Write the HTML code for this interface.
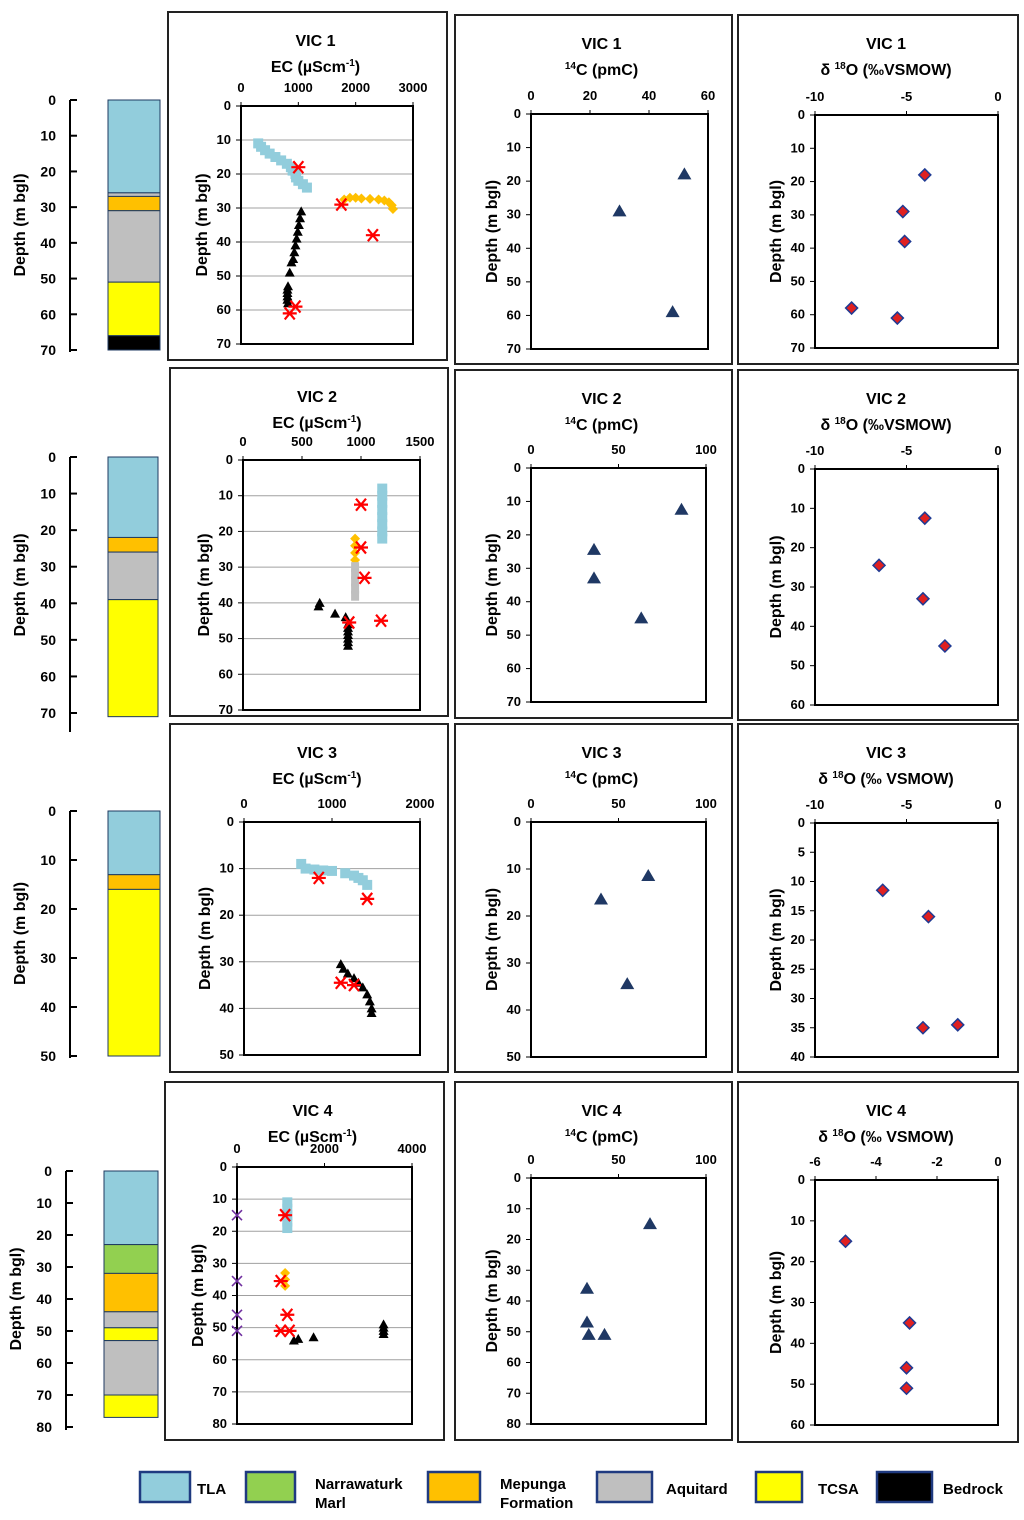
<!DOCTYPE html>
<html><head><meta charset="utf-8">
<style>
html,body{margin:0;padding:0;background:#fff;}
svg{display:block;font-family:"Liberation Sans",sans-serif;font-weight:bold;}
</style></head>
<body>
<svg id="fig" width="1024" height="1520" viewBox="0 0 1024 1520"></svg>
<script>
// ---------- data ----------
const stratCols = [
  [[0,26,'#92cddc'],[26,27,'#bfbfbf'],[27,31,'#ffc000'],[31,51,'#bfbfbf'],[51,66,'#ffff00'],[66,70,'#000']],
  [[0,22,'#92cddc'],[22,26,'#ffc000'],[26,39,'#bfbfbf'],[39,71,'#ffff00']],
  [[0,13,'#92cddc'],[13,16,'#ffc000'],[16,50,'#ffff00']],
  [[0,23,'#92cddc'],[23,32,'#92d050'],[32,44,'#ffc000'],[44,49,'#bfbfbf'],[49,53,'#ffff00'],[53,70,'#bfbfbf'],[70,77,'#ffff00']]
];
const ec1Tla=[[300,11],[350,12],[420,13],[500,14],[600,15],[700,16],[800,17],[870,18],[900,19],[950,20],[960,21],[1000,22],[1080,23],[1150,24]];
const ec1Mep=[[1800,27.5],[1900,27],[2000,27],[2100,27.2],[2250,27.3],[2400,27.5],[2500,27.8],[2580,28.3],[2630,29.2],[2650,30.3]];
const ec1Bed=[[1050,31],[1030,33],[1010,35],[990,37],[970,39],[950,41],[930,43],[910,45],[880,46],[850,49],[820,53],[810,54],[810,55],[810,56],[810,57],[820,58]];
const ec1Star=[[1000,18],[1750,29],[2300,38],[950,59],[850,61]];
const ec2Tla=[[1180,8],[1180,10],[1180,12],[1180,14],[1180,16],[1180,18],[1180,20],[1180,22]];
const ec2Mep=[[950,22],[950,24],[950,26],[950,28]];
const ec2Aq=[[950,30],[950,32],[950,34],[950,36],[950,38]];
const ec2Bed=[[640,41],[650,40],[780,43],[870,44],[890,46],[890,47],[890,48],[890,49],[890,50],[890,51],[890,52]];
const ec2Star=[[1000,12.5],[1000,24.5],[1030,33],[1170,45],[900,45.5]];
const ec3Tla=[[650,9],[700,10],[800,10.2],[900,10.4],[1000,10.5],[1150,11],[1250,11.5],[1300,12],[1350,12.5],[1400,13.5]];
const ec3Bed=[[1100,30.5],[1130,31.5],[1180,32.5],[1250,33.5],[1300,34.5],[1350,35.5],[1400,37],[1430,38.5],[1450,40],[1450,41]];
const ec3Star=[[850,12],[1400,16.5],[1100,34.5],[1250,35]];
const ec4X=[[0,15],[0,35.5],[0,46],[0,51]];
const ec4Tla=[[1150,11],[1150,13],[1150,15],[1150,17],[1150,19]];
const ec4Mep=[[1100,33],[1100,35],[1100,37]];
const ec4Bed=[[1300,54],[1400,53.5],[1750,53],[3350,49],[3350,50],[3350,51],[3350,52]];
const ec4Star=[[1100,15],[1000,35.5],[1150,46],[1000,51],[1200,51]];
const c14_1=[[52,18],[30,29],[48,59]];
const c14_2=[[86,12.5],[36,24.5],[36,33],[63,45]];
const c14_3=[[67,11.5],[40,16.5],[55,34.5]];
const c14_4=[[68,15],[32,36],[32,47],[33,51],[42,51]];
const o18_1=[[-4,18],[-5.2,29],[-5.1,38],[-8,58],[-5.5,61]];
const o18_2=[[-4,12.5],[-6.5,24.5],[-4.1,33],[-2.9,45]];
const o18_3=[[-6.3,11.5],[-3.8,16],[-2.2,34.5],[-4.1,35]];
const o18_4=[[-5,15],[-2.9,35],[-3,46],[-3,51]];
const legendLabels=['TLA','Narrawaturk|Marl','Mepunga|Formation','Aquitard','TCSA','Bedrock'];
const legendColors=['#92cddc','#92d050','#ffc000','#bfbfbf','#ffff00','#000'];

// ---------- helpers ----------
const NS='http://www.w3.org/2000/svg';
const svg=document.getElementById('fig');
function mk(tag,attrs,parent){const e=document.createElementNS(NS,tag);for(const k in attrs)e.setAttribute(k,attrs[k]);(parent||svg).appendChild(e);return e;}
function txt(x,y,s,size,anchor,parent){const t=mk('text',{x:x,y:y,'font-size':size,'text-anchor':anchor||'middle'},parent);t.textContent=s;return t;}
function lin(d0,d1,r0,r1){return v=>r0+(v-d0)/(d1-d0)*(r1-r0);}

function marker(g,type,x,y){
  let e;
  if(type==='sq'){e=mk('rect',{x:x-5,y:y-5,width:10,height:10,fill:'#92cddc'},g);}
  else if(type==='or'){e=mk('polygon',{points:`${x},${y-5} ${x+5},${y} ${x},${y+5} ${x-5},${y}`,fill:'#ffc000'},g);}
  else if(type==='gr'){e=mk('rect',{x:x-4,y:y-5,width:8,height:10,fill:'#bfbfbf'},g);}
  else if(type==='tri'){e=mk('polygon',{points:`${x},${y-5} ${x+5},${y+4} ${x-5},${y+4}`,fill:'#000'},g);}
  else if(type==='ntri'){e=mk('polygon',{points:`${x},${y-7} ${x+7},${y+5} ${x-7},${y+5}`,fill:'#1f3864'},g);}
  else if(type==='dia'){e=mk('polygon',{points:`${x},${y-6} ${x+6},${y} ${x},${y+6} ${x-6},${y}`,fill:'#e02020',stroke:'#1f3a93','stroke-width':1.5},g);}
  else if(type==='star'){e=mk('path',{d:`M${x-7},${y}H${x+7}M${x-5},${y-6}L${x+5},${y+6}M${x+5},${y-6}L${x-5},${y+6}`,stroke:'#ff0000','stroke-width':2.2},g);}
  else if(type==='x'){e=mk('path',{d:`M${x-5},${y-5}L${x+5},${y+5}M${x+5},${y-5}L${x-5},${y+5}`,stroke:'#7030a0','stroke-width':1.6},g);}
  return e;
}

function panel(p){
  const g=mk('g',{});
  
  
  const box=mk('rect',{x:p.box[0],y:p.box[1],width:p.box[2]-p.box[0],height:p.box[3]-p.box[1],fill:'none',stroke:'#222','stroke-width':2},g);
  
  
  const [L,T,R,B]=p.plot;
  const sx=lin(p.xd[0],p.xd[1],L,R), sy=lin(p.yd[0],p.yd[1],T,B);
  const cx=(p.box[0]+p.box[2])/2+8;
  const t1=txt(cx,p.box[1]+34,p.t1,16,'middle',g);
  
  
  const t2=mk('text',{x:cx,y:p.box[1]+60,'font-size':16,'text-anchor':'middle'},g);
  t2.innerHTML=p.t2;
  
  
  if(p.grid){p.yt.forEach(v=>{if(v>p.yd[0]&&v<p.yd[1])mk('line',{x1:L,x2:R,y1:sy(v),y2:sy(v),stroke:'#a0a0a0','stroke-width':1},g);});}
  p.xt.forEach(v=>{
    const lb=txt(sx(v),T-14,String(v),13,'middle',g);
    
    
    mk('line',{x1:sx(v),x2:sx(v),y1:T-4,y2:T,stroke:'#000'},g);
  });
  p.yt.forEach(v=>{
    const lb=txt(L-10,sy(v)+4,String(v),13,'end',g);
    
    
    mk('line',{x1:L-5,x2:L,y1:sy(v),y2:sy(v),stroke:'#000'},g);
  });
  const yl=mk('text',{x:0,y:0,'font-size':16,'text-anchor':'middle',transform:`translate(${L-34},${(T+B)/2}) rotate(-90)`},g);
  yl.textContent='Depth (m bgl)';
  
  
  mk('rect',{x:L,y:T,width:R-L,height:B-T,fill:'none',stroke:'#000','stroke-width':2},g);
  p.series.forEach(([arr,type,nm])=>{
    arr.forEach(d=>{
      const m=marker(g,type,sx(d[0]),sy(d[1]));
      
      
    });
  });
}

function strat(s){
  const g=mk('g',{});
  
  
  const sy=lin(0,s.max,s.y0,s.y1);
  s.layers.forEach(l=>{
    const r=mk('rect',{x:s.cx0,y:sy(l[0]),width:s.cx1-s.cx0,height:sy(l[1])-sy(l[0]),fill:l[2],stroke:'#1f3a60','stroke-width':1},g);
    
    
  });
  mk('line',{x1:s.ax,x2:s.ax,y1:s.y0,y2:s.end,stroke:'#000','stroke-width':2},g);
  for(let v=0;v<=s.max;v+=10){
    mk('line',{x1:s.ax,x2:s.ax+7,y1:sy(v),y2:sy(v),stroke:'#000','stroke-width':2},g);
    const lb=txt(s.ax-14,sy(v)+5,String(v),14,'end',g);
    
    
  }
  const yl=mk('text',{x:0,y:0,'font-size':16,'text-anchor':'middle',transform:`translate(${s.ax-45},${(s.y0+s.y1)/2}) rotate(-90)`},g);
  yl.textContent='Depth (m bgl)';
  
  
}

strat({name:'strat-column-vic1',layers:stratCols[0],max:70,y0:100,y1:350,end:352,ax:70,cx0:108,cx1:160});
strat({name:'strat-column-vic2',layers:stratCols[1],max:70,y0:457,y1:713,end:732,ax:70,cx0:108,cx1:158});
strat({name:'strat-column-vic3',layers:stratCols[2],max:50,y0:811,y1:1056,end:1058,ax:70,cx0:108,cx1:160});
strat({name:'strat-column-vic4',layers:stratCols[3],max:80,y0:1171,y1:1427,end:1430,ax:66,cx0:104,cx1:158});

const EC='EC (µScm<tspan dy="-6" font-size="10">-1</tspan><tspan dy="6">)</tspan>';
const C14='<tspan dy="-6" font-size="10">14</tspan><tspan dy="6">C (pmC)</tspan>';
const O18='δ <tspan dy="-6" font-size="10">18</tspan><tspan dy="6">O (‰VSMOW)</tspan>';
const O18b='δ <tspan dy="-6" font-size="10">18</tspan><tspan dy="6">O (‰ VSMOW)</tspan>';

panel({name:'ec-panel-vic1',box:[168,12,447,360],plot:[241,106,413,344],xd:[0,3000],yd:[0,70],xt:[0,1000,2000,3000],yt:[0,10,20,30,40,50,60,70],grid:true,t1:'VIC 1',t2:EC,
  series:[[ec1Tla,'sq','tla-point'],[ec1Mep,'or','mepunga-point'],[ec1Bed,'tri','bedrock-point'],[ec1Star,'star','sample-point']]});
panel({name:'c14-panel-vic1',box:[455,15,732,364],plot:[531,114,708,349],xd:[0,60],yd:[0,70],xt:[0,20,40,60],yt:[0,10,20,30,40,50,60,70],t1:'VIC 1',t2:C14,series:[[c14_1,'ntri','c14-point']]});
panel({name:'o18-panel-vic1',box:[738,15,1018,364],plot:[815,115,998,348],xd:[-10,0],yd:[0,70],xt:[-10,-5,0],yt:[0,10,20,30,40,50,60,70],t1:'VIC 1',t2:O18,series:[[o18_1,'dia','o18-point']]});
panel({name:'ec-panel-vic2',box:[170,368,448,716],plot:[243,460,420,710],xd:[0,1500],yd:[0,70],xt:[0,500,1000,1500],yt:[0,10,20,30,40,50,60,70],grid:true,t1:'VIC 2',t2:EC,
  series:[[ec2Tla,'sq','tla-point'],[ec2Mep,'or','mepunga-point'],[ec2Aq,'gr','aquitard-point'],[ec2Bed,'tri','bedrock-point'],[ec2Star,'star','sample-point']]});
panel({name:'c14-panel-vic2',box:[455,370,732,718],plot:[531,468,706,702],xd:[0,100],yd:[0,70],xt:[0,50,100],yt:[0,10,20,30,40,50,60,70],t1:'VIC 2',t2:C14,series:[[c14_2,'ntri','c14-point']]});
panel({name:'o18-panel-vic2',box:[738,370,1018,720],plot:[815,469,998,705],xd:[-10,0],yd:[0,60],xt:[-10,-5,0],yt:[0,10,20,30,40,50,60],t1:'VIC 2',t2:O18,series:[[o18_2,'dia','o18-point']]});
panel({name:'ec-panel-vic3',box:[170,724,448,1072],plot:[244,822,420,1055],xd:[0,2000],yd:[0,50],xt:[0,1000,2000],yt:[0,10,20,30,40,50],grid:true,t1:'VIC 3',t2:EC,
  series:[[ec3Tla,'sq','tla-point'],[ec3Bed,'tri','bedrock-point'],[ec3Star,'star','sample-point']]});
panel({name:'c14-panel-vic3',box:[455,724,732,1072],plot:[531,822,706,1057],xd:[0,100],yd:[0,50],xt:[0,50,100],yt:[0,10,20,30,40,50],t1:'VIC 3',t2:C14,series:[[c14_3,'ntri','c14-point']]});
panel({name:'o18-panel-vic3',box:[738,724,1018,1072],plot:[815,823,998,1057],xd:[-10,0],yd:[0,40],xt:[-10,-5,0],yt:[0,5,10,15,20,25,30,35,40],t1:'VIC 3',t2:O18b,series:[[o18_3,'dia','o18-point']]});
panel({name:'ec-panel-vic4',box:[165,1082,444,1440],plot:[237,1167,412,1424],xd:[0,4000],yd:[0,80],xt:[0,2000,4000],yt:[0,10,20,30,40,50,60,70,80],grid:true,t1:'VIC 4',t2:EC,
  series:[[ec4X,'x','surface-point'],[ec4Tla,'sq','tla-point'],[ec4Mep,'or','mepunga-point'],[ec4Bed,'tri','bedrock-point'],[ec4Star,'star','sample-point']]});
panel({name:'c14-panel-vic4',box:[455,1082,732,1440],plot:[531,1178,706,1424],xd:[0,100],yd:[0,80],xt:[0,50,100],yt:[0,10,20,30,40,50,60,70,80],t1:'VIC 4',t2:C14,series:[[c14_4,'ntri','c14-point']]});
panel({name:'o18-panel-vic4',box:[738,1082,1018,1442],plot:[815,1180,998,1425],xd:[-6,0],yd:[0,60],xt:[-6,-4,-2,0],yt:[0,10,20,30,40,50,60],t1:'VIC 4',t2:O18b,series:[[o18_4,'dia','o18-point']]});

const lgBoxX=[140,246,428,597,756,877], lgBoxW=[50,49,52,55,46,55], lgTextX=[197,315,500,666,818,943];
const lg=mk('g',{});


legendLabels.forEach((lab,i)=>{
  const r=mk('rect',{x:lgBoxX[i],y:1472,width:lgBoxW[i],height:30,fill:legendColors[i],stroke:'#1f3a80','stroke-width':2.5},lg);
  
  
  const parts=lab.split('|');
  parts.forEach((p,j)=>{
    const t=txt(lgTextX[i],parts.length>1?1489+j*19:1494,p,15,'start',lg);
    
    
  });
});
</script>
</body></html>
